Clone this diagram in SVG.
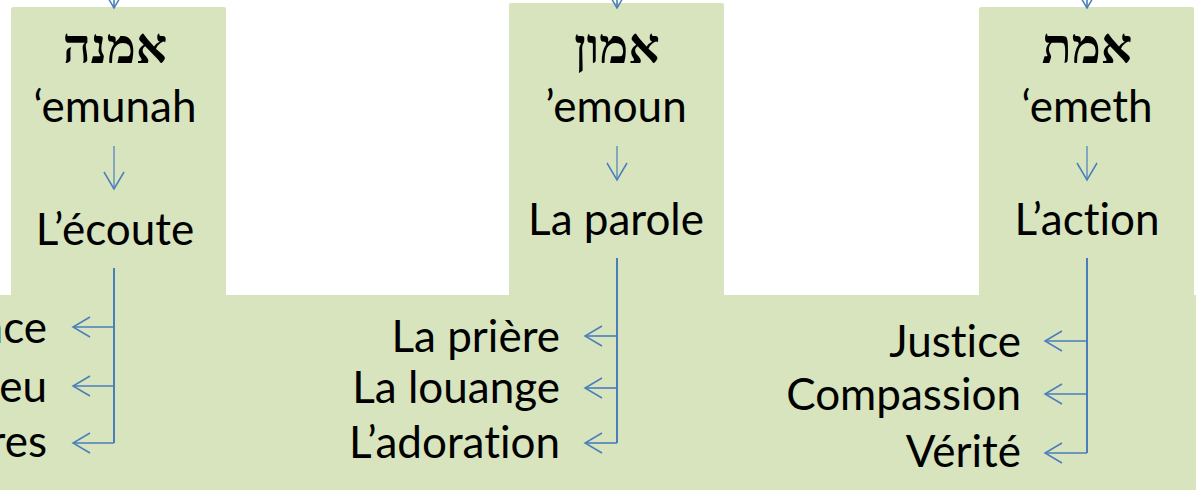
<svg xmlns="http://www.w3.org/2000/svg" width="1196" height="490" viewBox="0 0 1196 490">
  <style>
    .panel { fill: #d7e4bd; }
    .heb { font-family: "Liberation Serif", "DejaVu Serif", "DejaVu Sans", serif; font-size: 49px; font-weight: bold; fill: #000; text-anchor: middle; }
    .lbl { font-family: Lato, "Liberation Sans", sans-serif; font-size: 44px; fill: #000; font-variant-ligatures: none; }
    .mid { text-anchor: middle; }
    .end { text-anchor: end; }
    .wire { fill: none; stroke: #4a7ebb; stroke-width: 1.6; }
    .thin { fill: none; stroke: #4a7ebb; stroke-width: 1.2; }
    .trunk { fill: none; stroke: #4a7ebb; stroke-width: 2; }
  </style>
  <defs>
    <marker id="open" markerUnits="userSpaceOnUse" markerWidth="20" markerHeight="22" refX="0" refY="0" orient="auto" overflow="visible">
      <path d="M-17,-10 L0,0 L-17,10" fill="none" stroke="#4a7ebb" stroke-width="1.5"/>
    </marker>
  </defs>

  <!-- shared green base -->
  <g id="base">
    <rect class="panel" x="0" y="295" width="1196" height="195"/>
  </g>

  <g id="emunah">
    <rect class="panel" x="11" y="7" width="215" height="292" rx="2"/>
    <text class="heb" x="115" y="63">אמנה</text>
    <text class="lbl mid" x="115" y="122">‘emunah</text>
    <text class="lbl mid" x="115" y="245">L’écoute</text>
    <text class="lbl end" x="47" y="343">nce</text>
    <text class="lbl end" x="47" y="402">eu</text>
    <text class="lbl end" x="47" y="457">res</text>
  </g>

  <g id="emoun">
    <rect class="panel" x="509" y="3" width="215" height="296" rx="2"/>
    <text class="heb" x="617" y="63">אמון</text>
    <text class="lbl mid" x="616" y="122">’emoun</text>
    <text class="lbl mid" x="616" y="235">La parole</text>
    <text class="lbl end" x="560" y="352">La prière</text>
    <text class="lbl end" x="560" y="403">La louange</text>
    <text class="lbl end" x="560" y="458">L’adoration</text>
  </g>

  <g id="emeth">
    <rect class="panel" x="979" y="7" width="215" height="292" rx="2"/>
    <text class="heb" x="1087" y="63">אמת</text>
    <text class="lbl mid" x="1087" y="122">‘emeth</text>
    <text class="lbl mid" x="1087" y="235">L’action</text>
    <text class="lbl end" x="1021" y="357">Justice</text>
    <text class="lbl end" x="1021" y="410">Compassion</text>
    <text class="lbl end" x="1021" y="467">Vérité</text>
  </g>

  <g id="connectors">
    <!-- incoming from above -->
    <line class="wire" x1="114" y1="-30" x2="114" y2="8" marker-end="url(#open)"/>
    <line class="wire" x1="617" y1="-30" x2="617" y2="8" marker-end="url(#open)"/>
    <line class="wire" x1="1087" y1="-30" x2="1087" y2="8" marker-end="url(#open)"/>

    <!-- transliteration to meaning -->
    <line class="thin" x1="114" y1="146" x2="114" y2="189" marker-end="url(#open)"/>
    <line class="thin" x1="617" y1="146" x2="617" y2="180" marker-end="url(#open)"/>
    <line class="thin" x1="1087" y1="146" x2="1087" y2="180" marker-end="url(#open)"/>

    <!-- left branches -->
    <path class="trunk" d="M114,268 V443"/>
    <line class="wire" x1="114" y1="327" x2="73" y2="327" marker-end="url(#open)"/>
    <line class="wire" x1="114" y1="386" x2="73" y2="386" marker-end="url(#open)"/>
    <line class="wire" x1="114" y1="443" x2="73" y2="443" marker-end="url(#open)"/>

    <!-- middle branches -->
    <path class="trunk" d="M617,258 V443"/>
    <line class="wire" x1="617" y1="336" x2="585" y2="336" marker-end="url(#open)"/>
    <line class="wire" x1="617" y1="388" x2="585" y2="388" marker-end="url(#open)"/>
    <line class="wire" x1="617" y1="443" x2="585" y2="443" marker-end="url(#open)"/>

    <!-- right branches -->
    <path class="trunk" d="M1087,258 V453"/>
    <line class="wire" x1="1087" y1="341" x2="1045" y2="341" marker-end="url(#open)"/>
    <line class="wire" x1="1087" y1="394" x2="1045" y2="394" marker-end="url(#open)"/>
    <line class="wire" x1="1087" y1="453" x2="1045" y2="453" marker-end="url(#open)"/>
  </g>
</svg>
